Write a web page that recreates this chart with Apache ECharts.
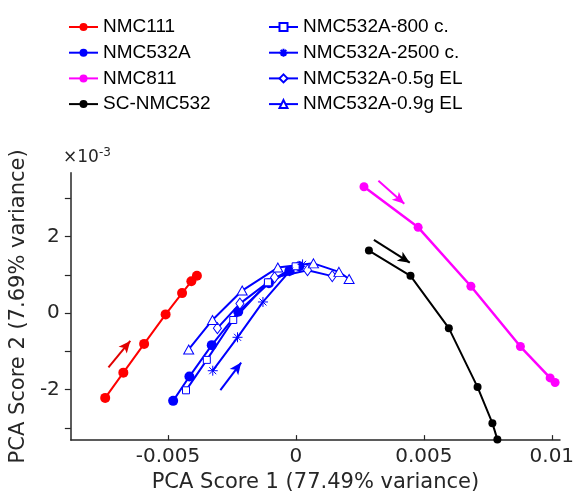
<!DOCTYPE html>
<html><head><meta charset="utf-8">
<script src="https://cdn.jsdelivr.net/npm/echarts@6/dist/echarts.min.js"></script>
<style>html,body{margin:0;padding:0;background:#fff}#c{width:577px;height:498px}</style>
</head><body><div id="c"></div>
<script>
// PCA Score 1 (x) and PCA Score 2 (y, in units of 1e-3)
const nmc111X = [-0.007454, -0.006745, -0.005933, -0.005093, -0.004450, -0.004087, -0.003870];
const nmc111Y = [-2.213, -1.554, -0.803, -0.033, 0.523, 0.831, 0.974];
const nmc532aX = [-0.004799, -0.004164, -0.003290, -0.002256, -0.001056, -0.000255, 0.000132];
const nmc532aY = [-2.290, -1.656, -0.836, 0.036, 0.779, 1.103, 1.223];
const nmc811X = [0.002659, 0.004776, 0.006838, 0.008773, 0.009934, 0.010128];
const nmc811Y = [3.30, 2.241, 0.703, -0.872, -1.692, -1.810];
const scX = [0.002852, 0.004478, 0.005975, 0.007098, 0.007678, 0.007872];
const scY = [1.633, 0.974, -0.392, -1.931, -2.872, -3.297];
const c800X = [-0.004296, -0.003483, -0.002450, -0.001095, -0.000012];
const c800Y = [-2.015, -1.221, -0.179, 0.805, 1.223];
const c2500X = [-0.003251, -0.002283, -0.001289, -0.000244, 0.000259];
const c2500Y = [-1.503, -0.631, 0.292, 1.095, 1.274];
const el05X = [-0.003069, -0.002190, -0.000836, 0.000453, 0.001420];
const el05Y = [-0.392, 0.249, 0.933, 1.121, 0.967];
const el09X = [-0.004191, -0.003262, -0.002101, -0.000708, 0.000685, 0.001680, 0.002078];
const el09Y = [-0.949, -0.179, 0.590, 1.190, 1.300, 1.077, 0.890];

// arrows: [x1, y1, x2, y2]
const arrowRed = [-0.007326, -1.418, -0.006474, -0.726];
const arrowBlue = [-0.002953, -2.008, -0.002140, -1.290];
const arrowMagenta = [0.003224, 3.454, 0.004234, 2.856];
const arrowBlack = [0.003046, 1.915, 0.004450, 1.318];

const xTicks = [-0.005, 0, 0.005, 0.01];
const yTicks = [-3, -2, -1, 0, 1, 2, 3];
const yTickLabels = [-2, 0, 2];

const namesLeft = ['NMC111', 'NMC532A', 'NMC811', 'SC-NMC532'];
const namesRight = ['NMC532A-800 c.', 'NMC532A-2500 c.', 'NMC532A-0.5g EL', 'NMC532A-0.9g EL'];

function zip(xs, ys) { return xs.map((x, i) => [x, ys[i]]); }
function arrow(a, color) {
  return {
    silent: true, symbol: ['none', 'arrow'], symbolSize: [8, 12],
    label: { show: false }, emphasis: { disabled: true },
    lineStyle: { color: color, width: 2, type: 'solid' },
    data: [[{ coord: [a[0], a[1]] }, { coord: [a[2], a[3]] }]]
  };
}
const asterisk = 'path://M5,0L5,10M0,5L10,5M1.5,1.5L8.5,8.5M1.5,8.5L8.5,1.5';
const BLUE = '#0000ff';
const AX = '#262626';
const FONT = 'DejaVu Sans';
const LFONT = "'Liberation Sans', Arial, sans-serif";

const chart = echarts.init(document.getElementById('c'));
chart.setOption({
  animation: false,
  backgroundColor: '#fff',
  grid: { left: 66, right: 17, top: 172.7, bottom: 54 },
  legend: [
    { data: namesLeft, orient: 'vertical', left: 68, top: 17, padding: 0, itemWidth: 29, itemHeight: 10, itemGap: 5.7,
      textStyle: { fontFamily: LFONT, fontSize: 19, color: '#000', lineHeight: 20 } },
    { data: namesRight, orient: 'vertical', left: 268, top: 17, padding: 0, itemWidth: 29, itemHeight: 10, itemGap: 5.7,
      textStyle: { fontFamily: LFONT, fontSize: 19, color: '#000', lineHeight: 20 } }
  ],
  graphic: [{
    type: 'text', left: 63, top: 147,
    style: { text: '{a|×10}{b|-3}', rich: {
      a: { fontFamily: FONT, fontSize: 17, fill: AX },
      b: { fontFamily: FONT, fontSize: 12, fill: AX, verticalAlign: 'top', padding: [0, 0, 10, 0] } } }
  }],
  xAxis: {
    type: 'value', min: -0.008797, max: 0.01032,
    name: 'PCA Score 1 (77.49% variance)', nameLocation: 'middle', nameGap: 30,
    nameTextStyle: { fontFamily: FONT, fontSize: 21, color: AX },
    axisLine: { onZero: false, lineStyle: { color: AX, width: 1.5 } },
    axisTick: { inside: true, length: 5, customValues: xTicks, lineStyle: { color: AX, width: 1.2 } },
    axisLabel: { customValues: xTicks, margin: 7, fontFamily: FONT, fontSize: 20, color: AX,
      formatter: v => v === 0 ? '0' : String(v) },
    splitLine: { show: false }
  },
  yAxis: {
    type: 'value', min: -3.315, max: 3.667,
    name: 'PCA Score 2 (7.69% variance)', nameLocation: 'middle', nameGap: 33,
    nameTextStyle: { fontFamily: FONT, fontSize: 21, color: AX },
    axisLine: { show: true, onZero: false, lineStyle: { color: AX, width: 1.5 } },
    axisTick: { show: true, inside: false, length: 6, customValues: yTicks, lineStyle: { color: AX, width: 1.2 } },
    axisLabel: { customValues: yTickLabels, margin: 11, fontFamily: FONT, fontSize: 20, color: AX },
    splitLine: { show: false }
  },
  series: [
    { name: 'NMC111', type: 'line', data: zip(nmc111X, nmc111Y), symbol: 'circle', symbolSize: 10,
      itemStyle: { color: '#ff0000' }, lineStyle: { color: '#ff0000', width: 2 }, markLine: arrow(arrowRed, '#e00000') },
    { name: 'NMC532A', type: 'line', data: zip(nmc532aX, nmc532aY), symbol: 'circle', symbolSize: 10,
      itemStyle: { color: BLUE }, lineStyle: { color: BLUE, width: 2 }, markLine: arrow(arrowBlue, BLUE) },
    { name: 'NMC811', type: 'line', data: zip(nmc811X, nmc811Y), symbol: 'circle', symbolSize: 9,
      itemStyle: { color: '#ff00ff' }, lineStyle: { color: '#ff00ff', width: 2.5 }, markLine: arrow(arrowMagenta, '#ff00ff') },
    { name: 'SC-NMC532', type: 'line', data: zip(scX, scY), symbol: 'circle', symbolSize: 8,
      itemStyle: { color: '#000' }, lineStyle: { color: '#000', width: 2 }, markLine: arrow(arrowBlack, '#000') },
    { name: 'NMC532A-800 c.', type: 'line', data: zip(c800X, c800Y), symbol: 'rect', symbolSize: 7,
      itemStyle: { color: '#fff', borderColor: BLUE, borderWidth: 1 }, lineStyle: { color: BLUE, width: 2 } },
    { name: 'NMC532A-2500 c.', type: 'line', data: zip(c2500X, c2500Y), symbol: asterisk, symbolSize: 10,
      itemStyle: { color: BLUE, borderColor: BLUE, borderWidth: 1 }, lineStyle: { color: BLUE, width: 2 } },
    { name: 'NMC532A-0.5g EL', type: 'line', data: zip(el05X, el05Y), symbol: 'diamond', symbolSize: [8, 11],
      itemStyle: { color: '#fff', borderColor: BLUE, borderWidth: 1 }, lineStyle: { color: BLUE, width: 2 } },
    { name: 'NMC532A-0.9g EL', type: 'line', data: zip(el09X, el09Y), symbol: 'triangle', symbolSize: [10, 9],
      itemStyle: { color: '#fff', borderColor: BLUE, borderWidth: 1 }, lineStyle: { color: BLUE, width: 2 } }
  ]
});
</script></body></html>
